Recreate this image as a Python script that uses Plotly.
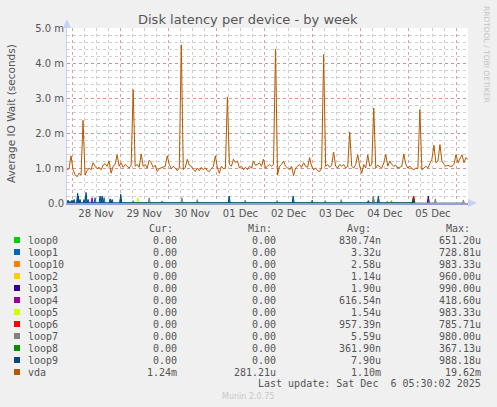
import datetime as dt
import plotly.graph_objects as go

# munin "diskstats latency" week graph
START = dt.datetime(2025, 11, 27, 21, 30)
END = dt.datetime(2025, 12, 6, 5, 30)

# vda average IO wait, one sample per hour from START (milliseconds)
VDA_MS = [
    0.95, 0.98, 1.35, 0.95, 0.82, 0.75, 0.85, 0.80, 2.36, 0.80, 0.92, 1.00,
    0.95, 1.15, 1.05, 0.98, 1.02, 0.95, 1.08, 1.12, 1.05, 1.20, 0.85, 1.05,
    1.10, 1.38, 1.05, 1.15, 1.02, 1.10, 1.05, 1.00, 1.08, 3.24, 1.05, 1.10,
    1.02, 1.40, 1.05, 1.10, 1.00, 1.22, 1.15, 1.02, 1.08, 0.90, 0.98, 1.00,
    1.02, 1.05, 1.35, 1.10, 0.98, 1.05, 1.00, 0.92, 1.00, 4.52, 0.95, 1.02,
    1.25, 1.08, 1.05, 0.95, 0.90, 1.00, 0.92, 1.02, 0.95, 1.00, 0.92, 0.90,
    0.98, 1.05, 1.35, 1.00, 0.85, 1.05, 0.98, 1.00, 3.03, 1.10, 1.05, 1.25,
    1.15, 1.20, 1.00, 1.05, 0.95, 1.02, 0.95, 1.05, 1.00, 1.20, 1.08, 1.10,
    1.15, 1.05, 1.25, 1.00, 1.05, 1.10, 1.05, 1.10, 4.40, 0.80, 1.05, 1.10,
    1.20, 1.05, 1.00, 0.95, 1.05, 0.78, 1.00, 1.05, 1.10, 1.02, 1.15, 1.05,
    1.02, 1.30, 1.05, 0.95, 1.00, 0.92, 0.90, 1.00, 4.24, 1.05, 1.10, 1.02,
    1.08, 1.45, 1.05, 1.00, 1.10, 1.05, 1.10, 1.00, 1.05, 2.03, 1.05, 1.00,
    1.10, 1.38, 1.05, 0.85, 1.10, 1.00, 1.38, 1.05, 1.10, 2.71, 1.00, 1.08,
    1.05, 1.00, 1.15, 1.38, 1.05, 1.20, 1.10, 1.05, 1.08, 1.00, 1.02, 1.05,
    1.40, 1.10, 1.00, 1.05, 0.98, 0.95, 1.00, 0.98, 2.67, 0.95, 1.00, 1.05,
    1.00, 1.15, 1.25, 1.65, 1.15, 1.20, 1.67, 1.20, 1.10, 1.05, 1.08, 1.05,
    1.05, 1.10, 1.38, 1.15, 1.25, 1.38, 1.15, 1.30, 1.24,
]

# loop devices: short bursts (hour offset from START, value in ms)
LOOP0_H, LOOP0_V = [152.8], [0.15]
LOOP1_H, LOOP1_V = [5.6, 14.0, 18.5, 47.4, 122.3], [0.20, 0.15, 0.15, 0.05, 0.08]
LOOP10_H, LOOP10_V = [161.8, 172.7], [0.07, 0.18]
LOOP2_H, LOOP2_V = [172.5], [0.17]
LOOP3_H, LOOP3_V = [180.2], [0.20]
LOOP4_H, LOOP4_V = [12.5], [0.15]
LOOP5_H, LOOP5_V = [35.4], [0.15]
LOOP6_H, LOOP6_V = [173.0], [0.20]
LOOP7_H = [33.0, 41.0, 57.3, 65.0, 88.9, 104.8, 128.8, 136.8, 152.8, 159.8, 183.7, 197.7]
LOOP7_V = [0.07, 0.15, 0.15, 0.10, 0.08, 0.07, 0.07, 0.10, 0.20, 0.05, 0.12, 0.08]
LOOP8_H, LOOP8_V = [26.8, 172.7], [0.10, 0.10]
LOOP9_H = [0.5, 1.5, 2.5, 3.5, 5.3, 6.5, 8.5, 9.5, 10.5, 16.5, 17.5, 21.5, 22.5, 26.8,
           80.9, 112.8, 150.3, 155.3, 172.7]
LOOP9_V = [0.08, 0.05, 0.08, 0.10, 0.28, 0.10, 0.10, 0.30, 0.10, 0.20, 0.20, 0.12, 0.10, 0.25,
           0.20, 0.20, 0.07, 0.20, 0.15]

NAMES = ["loop0", "loop1", "loop10", "loop2", "loop3", "loop4", "loop5",
         "loop6", "loop7", "loop8", "loop9", "vda"]
COLORS = ["#00CC00", "#0066B3", "#FF8000", "#FFCC00", "#330099", "#990099", "#CCFF00",
          "#FF0000", "#808080", "#008F00", "#00487D", "#B35A00"]
CUR = ["0.00"] * 11 + ["1.24m"]
MIN = ["0.00"] * 11 + ["281.21u"]
AVG = ["830.74n", "3.32u", "2.58u", "1.14u", "1.90u", "616.54n", "1.54u",
       "957.39n", "5.59u", "361.90n", "7.90u", "1.10m"]
MAX = ["651.20u", "728.81u", "983.33u", "960.00u", "990.00u", "418.60u", "983.33u",
       "785.71u", "980.00u", "367.13u", "988.18u", "19.62m"]
YTICKS = [0, 0.001, 0.002, 0.003, 0.004, 0.005]
YTEXT = ["0.0", "1.0 m", "2.0 m", "3.0 m", "4.0 m", "5.0 m"]

LOOPS = [(LOOP0_H, LOOP0_V), (LOOP1_H, LOOP1_V), (LOOP10_H, LOOP10_V), (LOOP2_H, LOOP2_V),
         (LOOP3_H, LOOP3_V), (LOOP4_H, LOOP4_V), (LOOP5_H, LOOP5_V), (LOOP6_H, LOOP6_V),
         (LOOP7_H, LOOP7_V), (LOOP8_H, LOOP8_V), (LOOP9_H, LOOP9_V)]

W, H = 497, 407
L, R, T, B = 67, 468, 28, 203   # plot box in pixels


def t(h):
    return START + dt.timedelta(hours=h)


def px(x):
    return (x - L) / (R - L)


def py(y):
    return (B - y) / (B - T)


def rgba(hexc, a):
    return "rgba(%d,%d,%d,%.2f)" % (int(hexc[1:3], 16), int(hexc[3:5], 16), int(hexc[5:7], 16), a)


fig = go.Figure()
for (hs, vs), name, c in zip(LOOPS, NAMES, COLORS):
    xs, ys = [], []
    for h, v in sorted(zip(hs, vs)):
        xs += [t(h - 0.5), t(h), t(h + 0.5)]
        ys += [0, v / 1000, 0]
    fig.add_scatter(x=xs, y=ys, mode="lines", name=name, line=dict(color=c, width=1),
                    fill="tozeroy", fillcolor=rgba(c, 0.6), showlegend=False)

fig.add_scatter(x=[t(i) for i in range(len(VDA_MS))], y=[v / 1000 for v in VDA_MS],
                mode="lines", name="vda", line=dict(color=COLORS[-1], width=1), showlegend=False)

GRIDMAJ = "rgba(225,120,120,0.75)"
GRIDMIN = "#cfcfcf"
fig.update_xaxes(type="date", range=[START, END], tick0="2025-11-28", dtick=86400000,
                 ticklabelmode="period", tickformat="%d %b", ticks="",
                 showgrid=True, gridcolor=GRIDMAJ, griddash="dot", gridwidth=1,
                 minor=dict(dtick=6 * 3600000, showgrid=True, gridcolor=GRIDMIN, griddash="dot"),
                 showline=True, linecolor="#8f9fd8", linewidth=2, zeroline=False,
                 tickfont=dict(family="DejaVu Sans", size=10, color="#555"))
fig.update_yaxes(range=[0, 0.005], tickvals=YTICKS, ticktext=YTEXT, ticks="",
                 showgrid=True, gridcolor=GRIDMAJ, griddash="dot", gridwidth=1,
                 minor=dict(dtick=0.0002, showgrid=True, gridcolor=GRIDMIN, griddash="dot"),
                 showline=True, linecolor="#c8d0f0", linewidth=1, zeroline=False,
                 tickfont=dict(family="DejaVu Sans", size=10, color="#555"))

ann = []
mono = dict(family="DejaVu Sans Mono", size=10, color="#555")
ann.append(dict(x=px(248), y=py(19), text="Disk latency per device - by week",
                font=dict(family="DejaVu Sans", size=13, color="#555")))
ann.append(dict(x=px(11), y=py(114), text="Average IO Wait (seconds)", textangle=-90,
                font=dict(family="DejaVu Sans", size=10.5, color="#555")))
ann.append(dict(x=px(487), y=py(54), text="RRDTOOL / TOBI OETIKER", textangle=90,
                font=dict(family="DejaVu Sans", size=7.5, color="#c4c4c4")))
for hx, htxt in [(160.5, "Cur:"), (260, "Min:"), (359, "Avg:"), (457.5, "Max:")]:
    ann.append(dict(x=px(hx), y=py(228), text=htxt, font=mono))
shapes = []
for k, name in enumerate(NAMES):
    ry = 240 + 12 * k
    shapes.append(dict(type="rect", xref="paper", yref="paper", x0=px(14), x1=px(20),
                       y0=py(ry + 3), y1=py(ry - 3), fillcolor=COLORS[k], line=dict(width=0)))
    ann.append(dict(x=px(26), y=py(ry), text=name, xanchor="left", font=mono))
    for rx, col in [(179, CUR), (278, MIN), (383, AVG), (483, MAX)]:
        ann.append(dict(x=px(rx), y=py(ry), text=col[k], xanchor="right", font=mono))
ann.append(dict(x=px(483), y=py(383), text="Last update: Sat Dec&nbsp;&nbsp;6 05:30:02 2025",
                xanchor="right", font=mono))
ann.append(dict(x=px(248), y=py(396), text="Munin 2.0.75",
                font=dict(family="DejaVu Sans", size=8, color="#c8c8c8")))
for a in ann:
    a.update(xref="paper", yref="paper", showarrow=False)
    a.setdefault("xanchor", "center")
    a.setdefault("yanchor", "middle")

# axis arrows
shapes.append(dict(type="path", xref="paper", yref="paper", fillcolor="#c8d0f4", line=dict(width=0),
                   path="M %f %f L %f %f L %f %f Z" % (px(468), py(199), px(477), py(203), px(468), py(207))))
shapes.append(dict(type="path", xref="paper", yref="paper", fillcolor="#c8d0f4", line=dict(width=0),
                   path="M %f %f L %f %f L %f %f Z" % (px(63), py(28), px(67), py(19), px(71), py(28))))

fig.update_layout(width=W, height=H, margin=dict(l=L, r=W - R, t=T, b=H - B),
                  paper_bgcolor="#f0f0f0", plot_bgcolor="white",
                  annotations=ann, shapes=shapes, showlegend=False)
fig.write_html("out.html", config={"displayModeBar": False},
               post_script="document.body.style.margin='0';")
